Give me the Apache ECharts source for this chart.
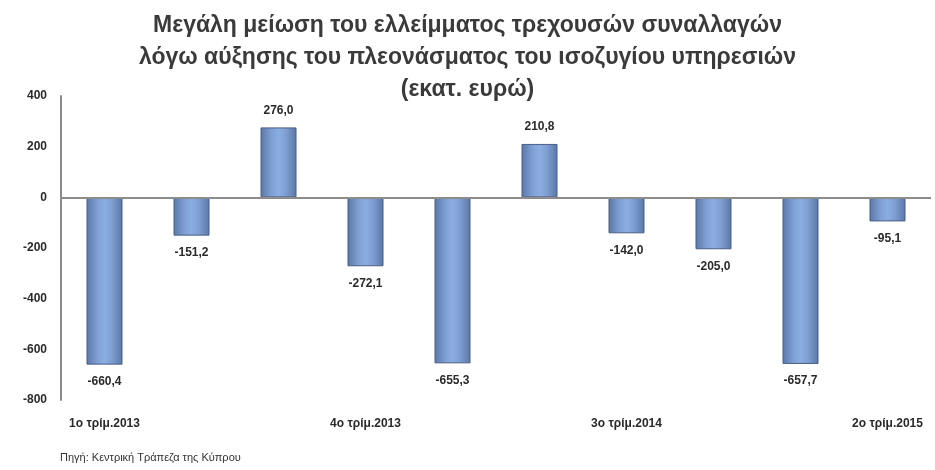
<!DOCTYPE html>
<html>
<head>
<meta charset="utf-8">
<script src="https://cdn.jsdelivr.net/npm/echarts@6/dist/echarts.min.js"></script>
<style>
  html, body { margin: 0; padding: 0; background: #ffffff; }
  #chart { width: 935px; height: 470px; }
</style>
</head>
<body>
<div id="chart"></div>
<script>
// Current account balance by quarter (million euro)
const quarters = [
  '1ο τρίμ.2013', '2ο τρίμ.2013', '3ο τρίμ.2013', '4ο τρίμ.2013',
  '1ο τρίμ.2014', '2ο τρίμ.2014', '3ο τρίμ.2014', '4ο τρίμ.2014',
  '1ο τρίμ.2015', '2ο τρίμ.2015'
];
const balance = [-660.4, -151.2, 276.0, -272.1, -655.3, 210.8, -142.0, -205.0, -657.7, -95.1];
const titleLines = [
  'Μεγάλη μείωση του ελλείμματος τρεχουσών συναλλαγών',
  'λόγω αύξησης του πλεονάσματος του ισοζυγίου υπηρεσιών',
  '(εκατ. ευρώ)'
];
const sourceNote = 'Πηγή: Κεντρική Τράπεζα της Κύπρου';

const fontFamily = '"Liberation Sans", Arial, sans-serif';

const chart = echarts.init(document.getElementById('chart'));

const barFill = new echarts.graphic.LinearGradient(0, 0, 1, 0, [
  { offset: 0, color: '#5a76a8' },
  { offset: 0.3, color: '#7f9fd2' },
  { offset: 0.5, color: '#8aaee2' },
  { offset: 0.7, color: '#7f9fd2' },
  { offset: 1, color: '#5a76a8' }
]);

chart.setOption({
  backgroundColor: '#ffffff',
  animation: false,
  title: {
    text: titleLines.join('\n'),
    left: 'center',
    top: 5,
    textStyle: {
      fontFamily: fontFamily,
      fontSize: 23,
      fontWeight: 'bold',
      color: '#3a3a3a',
      lineHeight: 32
    }
  },
  graphic: [{
    type: 'text',
    left: 60,
    top: 452,
    style: {
      text: sourceNote,
      font: '11px ' + fontFamily,
      fill: '#333333'
    }
  }],
  grid: { left: 61, right: 4, top: 96, bottom: 70 },
  xAxis: {
    type: 'category',
    data: quarters,
    axisLine: { onZero: false, show: false },
    axisTick: { show: false },
    axisLabel: {
      interval: 2,
      margin: 18,
      fontFamily: fontFamily,
      fontSize: 12,
      fontWeight: 'bold',
      color: '#2a2a2a'
    }
  },
  yAxis: {
    type: 'value',
    min: -800,
    max: 400,
    interval: 200,
    axisLine: { show: true, lineStyle: { color: '#8c8c8c', width: 2 } },
    axisTick: { show: false },
    splitLine: { show: false },
    axisLabel: {
      margin: 14,
      fontFamily: fontFamily,
      fontSize: 12,
      fontWeight: 'bold',
      color: '#2a2a2a'
    }
  },
  series: [{
    type: 'bar',
    data: balance,
    barWidth: 36,
    itemStyle: {
      color: barFill,
      borderColor: '#4a5f86',
      borderWidth: 1
    },
    label: {
      show: true,
      position: 'outside',
      distance: 11,
      fontFamily: fontFamily,
      fontSize: 12,
      fontWeight: 'bold',
      color: '#2a2a2a',
      formatter: p => p.value.toFixed(1).replace('.', ',')
    },
    markLine: {
      silent: true,
      symbol: 'none',
      label: { show: false },
      lineStyle: { color: '#8c8c8c', width: 2, type: 'solid' },
      data: [{ yAxis: 0 }]
    }
  }]
});
</script>
</body>
</html>
